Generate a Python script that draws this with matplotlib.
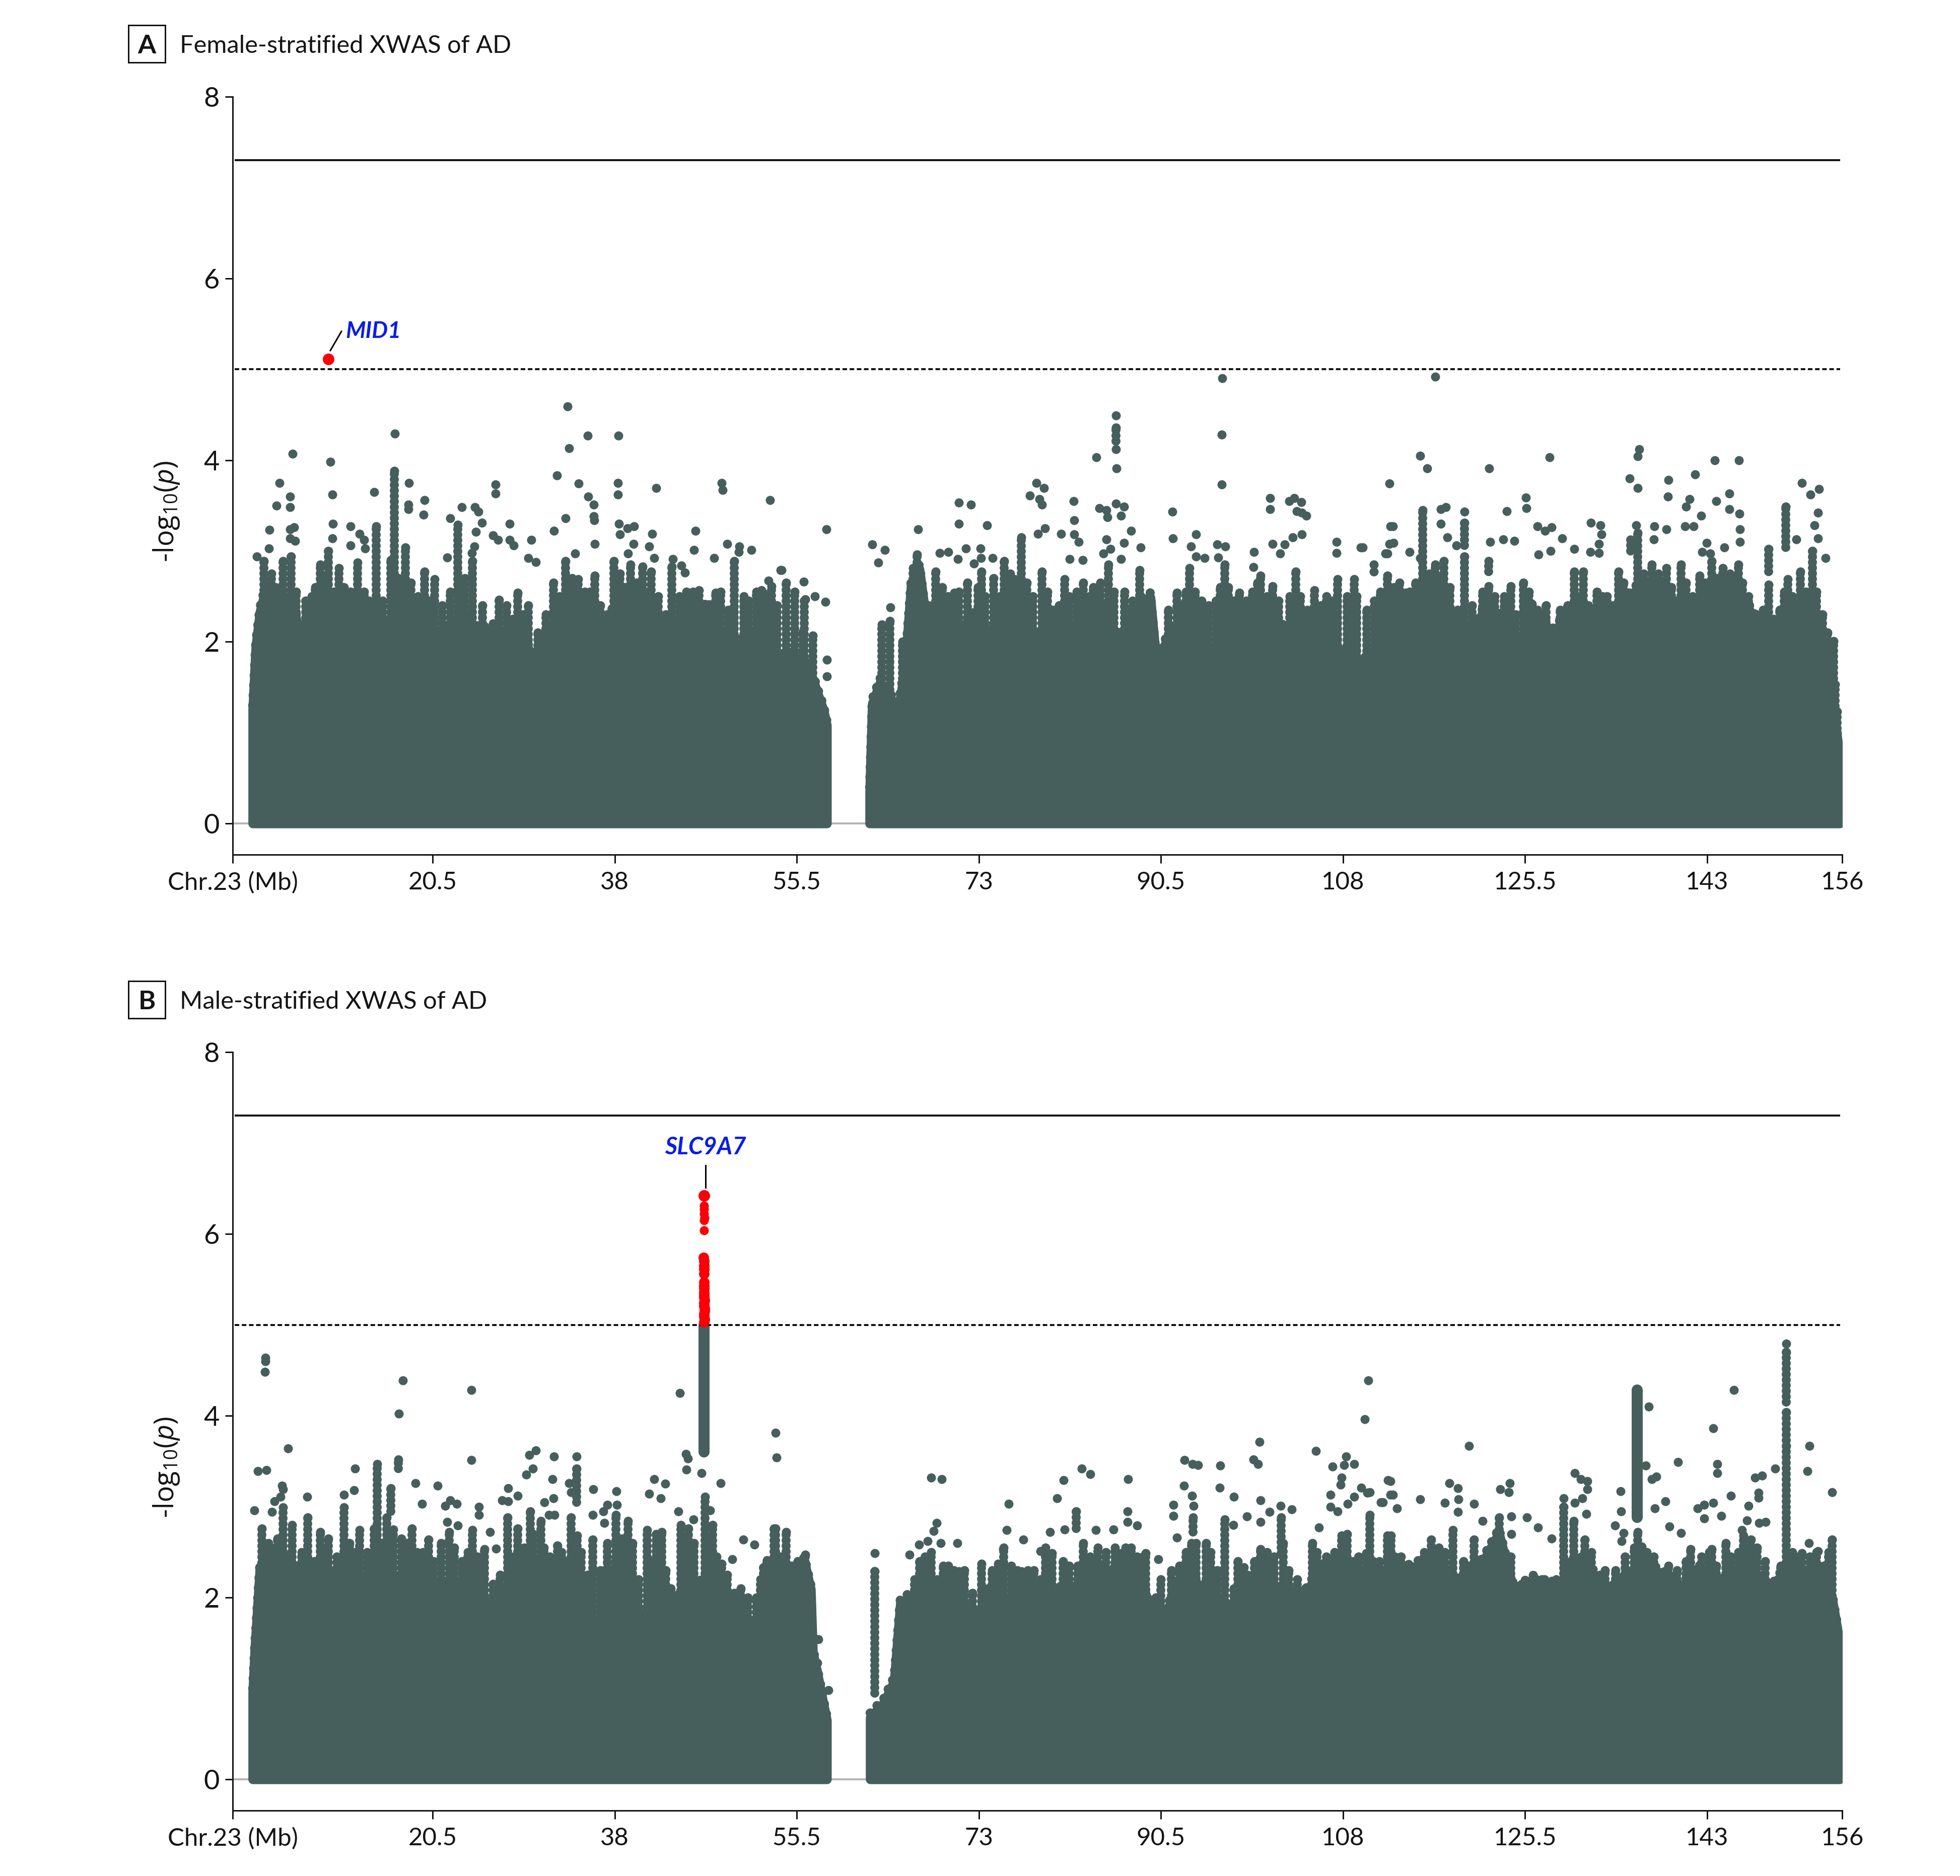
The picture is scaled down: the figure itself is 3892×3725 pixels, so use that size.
import matplotlib
matplotlib.use('Agg')
import matplotlib.pyplot as plt
import numpy as np
from matplotlib.lines import Line2D
from matplotlib.patches import Rectangle

# --- data: x in Mb, y in -log10(p) -----------------------------------------
tick_pos = [1.3, 20.5, 38, 55.5, 73, 90.5, 108, 125.5, 143, 156]
tick_labels = ['Chr.23 (Mb)', '20.5', '38', '55.5', '73', '90.5', '108', '125.5', '143', '156']
y_ticks = [0, 2, 4, 6, 8]
genome_wide = 7.3
suggestive = 5

# panel A, top of the solid mass
mass_x_a = [3.2, 3.5, 3.9, 4.5, 5.7, 6.9, 7.7, 8.9, 10.1, 11.3, 12.5, 13.7, 14.9, 16.1, 17.3, 18.5, 20.1, 20.9, 22.1, 23.3,
            24.9, 26.1, 27.7, 28.9, 30.5, 31.7, 32.9, 34.1, 35.3, 36.5, 38.1, 39.7, 41.3, 42.9, 44.1, 45.7, 46.9, 48.5,
            49.7, 50.9, 52.1, 53.3, 54.5, 55.1, 56.7, 57.5, 58.1, 58.4,
            62.5, 62.75, 63.5, 64.3, 65.3, 65.9, 66.5, 67.3, 68.3, 69.1, 70.3, 71.5, 72.7, 73.9, 75.5, 77.1, 78.7, 80.3,
            81.9, 83.5, 85.1, 86.7, 88.3, 89.5, 90.1, 91.5, 92.7, 93.9, 95.5, 97.1, 98.7, 100.3, 101.9, 103.5, 105.1,
            106.7, 108.3, 109.6, 110.9, 112.3, 113.6, 114.7, 115.7, 116.7, 117.7, 118.7, 119.7, 120.7, 121.8, 123.1,
            124.1, 125.5, 126.9, 128.2, 129.6, 131, 132.6, 134.3, 136.4, 137.7, 139.4, 141.1, 142.8, 144.8, 146.5,
            147.9, 149.2, 150.6, 151.9, 153.3, 154.3, 155.2, 155.75]
mass_y_a = [1.3, 2.0, 2.38, 2.65, 2.53, 2.49, 2.19, 2.07, 2.22, 2.26, 2.15, 2.11, 2.22, 2.18, 2.30, 2.11, 2.07, 2.11, 2.15, 2.38,
            2.15, 2.18, 2.07, 2.07, 1.87, 2.15, 2.34, 1.91, 2.10, 2.03, 2.46, 2.38, 2.38, 2.19, 2.22, 2.19, 2.46, 2.07,
            1.95, 2.15, 1.87, 1.76, 1.91, 1.88, 1.76, 1.49, 1.29, 1.13,
            0.40, 1.37, 1.60, 1.45, 1.33, 1.76, 2.69, 2.85, 2.0, 2.46, 2.07, 2.15, 2.38, 2.11, 2.07, 2.07, 2.15, 2.0,
            2.19, 2.19, 2.22, 2.07, 2.5, 2.54, 1.80, 2.19, 1.88, 2.07, 1.95, 1.95, 1.95, 2.22, 2.22, 2.07, 2.15,
            1.95, 1.91, 1.80, 1.88, 2.23, 2.50, 2.38, 2.5, 2.5, 2.5, 2.19, 2.19, 2.19, 2.46, 2.34,
            1.99, 2.15, 2.30, 2.15, 2.34, 2.19, 2.46, 2.38, 2.65, 2.65, 2.19, 2.26, 2.50, 2.57, 2.50,
            2.26, 2.15, 2.42, 2.38, 2.23, 2.07, 1.29, 0.79]

# panel A, stacks of dots rising out of the mass
stalk_x_a = [4.3, 6.1, 6.9, 9.7, 10.5, 11.5, 13.3, 15.1, 16.5, 16.82, 17.9, 19.7, 20.7, 22.9, 24.3, 26.9, 28.7, 29.7, 32.1,
             33.3, 34.5, 36.1, 37.9, 39.5, 40.7, 41.5, 43.5, 46.1, 47.7, 49.5, 52.1, 52.26, 53.06, 54.46, 56.06, 57.06,
             63.66, 64.46, 65.66, 67.06, 66.66, 68.86, 70.66, 73.26, 75.46, 76.46, 77.06, 79.06, 81.26, 83.06, 84.66,
             85.46, 88.46, 92.06, 93.26, 96.66, 98.06, 100.06, 101.26, 103.46, 105.26, 107.46, 109.06, 112.26, 113.46,
             114, 115.67, 116.86, 117.7, 119.67, 122, 124.14, 125.33, 126.18, 130.25, 131.1, 132.96, 134.48, 136.35,
             137.7, 139.07, 140.48, 142.3, 143.47, 144.5, 146, 148.9, 150.76, 151.96, 153.13, 155.16, 155.33, 155.5]
stalk_top_a = [2.89, 2.89, 2.94, 2.85, 3.0, 2.81, 2.87, 3.27, 2.90, 3.88, 3.04, 2.77, 2.69, 3.29, 2.89, 2.46, 2.54, 2.40, 2.65,
               2.89, 2.69, 2.73, 2.89, 2.85, 2.83, 2.77, 2.83, 2.57, 2.54, 2.89, 2.57, 2.54, 2.61, 2.65, 2.11, 2.07,
               2.19, 2.23, 2.0, 2.96, 2.81, 2.77, 2.54, 2.77, 2.89, 2.69, 3.15, 2.77, 2.69, 2.65, 2.65,
               2.85, 2.79, 2.54, 2.81, 2.85, 2.54, 2.73, 2.61, 2.77, 2.57, 2.69, 2.69, 2.73, 2.65,
               2.54, 3.45, 2.85, 2.89, 2.94, 2.61, 2.61, 2.65, 2.42, 2.77, 2.77, 2.50, 2.77, 3.20,
               2.85, 2.81, 2.85, 2.73, 2.89, 2.81, 2.85, 2.63, 2.69, 2.77, 3.0, 2.01, 1.53, 1.23]

# panel A, lower stacks between them
lace_x_a = [5.0, 5.4, 7.4, 8.3, 8.9, 9.2, 10.1, 11.0, 12.0, 12.6, 13.9, 14.4, 15.7, 17.2, 18.4, 19.1, 20.2, 21.4, 22.2, 23.6,
            25.3, 26.3, 27.6, 28.2, 29.2, 30.6, 31.4, 32.7, 33.9, 35.1, 35.6, 36.6, 37.3, 38.5, 39.0, 40.1, 41.0, 42.2,
            42.9, 44.2, 44.9, 45.5, 47.0, 48.2, 48.9, 50.4, 50.9, 51.6, 52.6, 53.6, 55.3, 56.2,
            68.2, 69.5, 70.0, 71.1, 71.9, 72.9, 73.6, 74.4, 75.0, 76.0, 77.6, 78.2, 79.6, 80.1, 80.7, 81.7, 82.4, 83.6,
            84.0, 85.0, 86.0, 87.0, 87.8, 91.2, 92.5, 92.9, 93.8, 94.4, 95.1, 95.8, 96.2, 97.0, 97.5, 98.7, 99.3, 99.8,
            100.7, 101.8, 102.9, 103.9, 104.6, 105.9, 106.4, 107.0, 108.4, 109.3, 110.3, 111.0, 111.6, 112.9,
            114.4, 115.0, 116.3, 117.3, 118.3, 119.0, 120.4, 121.4, 122.6, 123.5, 124.6, 125.9, 126.7, 127.5, 128.9,
            129.6, 130.7, 131.6, 132.4, 133.4, 133.9, 135.0, 135.8, 136.9, 137.2, 138.3, 138.8, 139.6, 140.1, 141.0,
            141.6, 142.8, 144.0, 145.2, 145.6, 146.4, 147.0, 147.6, 148.4, 149.4, 150.0, 150.4, 151.2, 152.5, 153.5,
            154.1, 154.6, 155.0]
lace_top_a = [2.75, 2.6, 2.55, 2.45, 2.5, 2.6, 2.7, 2.55, 2.6, 2.55, 2.55, 2.45, 2.45, 2.7, 2.65, 2.5, 2.45, 2.4, 2.55, 2.7,
              2.4, 2.2, 2.4, 2.25, 2.3, 2.1, 2.3, 2.5, 2.7, 2.55, 2.55, 2.4, 2.3, 2.75, 2.6, 2.65, 2.55, 2.5,
              2.3, 2.5, 2.55, 2.55, 2.4, 2.55, 2.35, 2.5, 2.45, 2.55, 2.5, 2.4, 2.55, 2.45,
              2.4, 2.6, 2.5, 2.55, 2.65, 2.6, 2.5, 2.7, 2.5, 2.75, 2.65, 2.5, 2.55, 2.35, 2.4, 2.5, 2.55, 2.5,
              2.6, 2.4, 2.55, 2.55, 2.45, 2.35, 2.4, 2.55, 2.55, 2.45, 2.4, 2.45, 2.6, 2.6, 2.45, 2.45, 2.55, 2.65,
              2.5, 2.45, 2.5, 2.5, 2.35, 2.4, 2.5, 2.45, 2.5, 2.5, 2.35, 2.45, 2.55, 2.6,
              2.55, 2.65, 2.75, 2.7, 2.6, 2.35, 2.4, 2.55, 2.5, 2.5, 2.3, 2.55, 2.35, 2.4, 2.35,
              2.4, 2.5, 2.4, 2.55, 2.5, 2.4, 2.65, 2.4, 2.75, 2.65, 2.75, 2.65, 2.6, 2.45, 2.65,
              2.5, 2.65, 2.7, 2.75, 2.7, 2.65, 2.5, 2.3, 2.35, 2.25, 2.35, 2.55, 2.5, 2.55, 2.55,
              2.3, 2.1, 1.95]

# panel A, short stacks that float above the mass
column_x_a = [86.18, 119.67, 150.55, 148.9, 135.67, 122]
column_low_a = [4.21, 3.06, 3.04, 2.77, 3.0, 2.77]
column_high_a = [4.36, 3.31, 3.49, 3.02, 3.12, 2.89]

# panel A, single dots
dot_x_a = [7.06, 10.66, 16.86, 33.46, 33.62, 35.42, 38.34, 32.46, 5.78, 6.82, 6.82, 5.5, 10.86, 14.86, 18.22, 18.18, 18.18,
           19.7, 19.62, 26.54, 26.54, 34.54, 35.46, 35.98, 35.98, 36.06, 38.3, 38.3, 41.98, 48.3, 48.38, 52.94, 23.3,
           24.54, 24.9, 22.18, 33.3, 10.9, 10.86, 4.82, 6.78, 7.2, 6.82, 7.26, 12.62, 12.62, 13.5, 13.9, 14.02, 25.22,
           24.66, 27.9, 27.9, 28.3, 26.3, 26.78, 30, 32.18, 36.1, 38.42, 38.5, 39.22, 39.86, 39.82, 39.3, 41.58, 41.3,
           45.78, 45.62, 48.82, 49.98, 49.94, 51.14, 4.78, 3.58, 24.5, 24.26, 21.9, 34.22, 29.7, 30.42, 41.82, 43.58,
           44.42, 44.74, 47.54, 53.94, 52.78,
           96.42, 96.34, 96.34, 86.18, 86.18, 86.22, 84.3, 78.54, 79.26, 77.9, 78.82, 79.06, 82.14, 82.18, 82.18, 82.58,
           84.58, 85.26, 85.34, 86.18, 86.98, 86.66, 87.66, 86.98, 85.26, 88.54, 71.1, 72.26, 71.1, 73.78, 67.18, 91.62,
           91.66, 100.98, 100.98, 102.86, 103.34, 104.02, 103.54, 104.06, 104.46, 112.46, 112.58, 112.46, 112.06,
           104.06, 103.18, 102.38, 101.22, 101.98, 93.86, 93.38, 93.86, 94.7, 95.9, 96.7, 96.02, 99.46, 99.38, 107.38,
           107.38, 109.7, 110.98, 110.98, 62.78, 63.98, 63.34, 58.34, 58.42, 58.42, 64.5, 78.66, 79.34, 80.9, 71.78,
           73.14, 70.98, 72.54, 73.22, 74.34, 69.26, 70.06, 81.74, 82.98, 84.98, 85.66, 86.66, 56.18, 54.02, 58.26,
           57.26, 56.34,
           116.86, 115.4, 116.1, 122.04, 127.87, 136.48, 136.35, 135.57, 136.35, 143.74, 146.04, 139.3, 139.23, 141.84,
           141.3, 140.96, 142.45, 143.87, 145.16, 145.16, 146.11, 152.1, 152.96, 153.74, 153.64, 153.3, 153.64, 154.38,
           125.57, 125.64, 123.74, 119.67, 117.43, 117.87, 126.69, 127.43, 128.04, 112.82, 112.85, 109.9, 112.28, 114.4,
           115.4, 117.43, 118.04, 118.9, 123.43, 124.48, 122.14, 129.06, 130.25, 127.97, 126.79, 131.84, 132.75, 132.86,
           132.62, 132.62, 131.77, 136.2, 137.94, 139.1, 137.87, 140.86, 141.7, 142.96, 142.52, 143.3, 144.65, 146.18,
           146.18, 151.6]
dot_y_a = [4.07, 3.98, 4.29, 4.59, 4.13, 4.27, 4.27, 3.83, 3.75, 3.60, 3.48, 3.50, 3.62, 3.65, 3.75, 3.51, 3.46,
           3.56, 3.40, 3.73, 3.63, 3.74, 3.60, 3.51, 3.38, 3.34, 3.75, 3.62, 3.69, 3.75, 3.67, 3.56, 3.48,
           3.48, 3.43, 3.36, 3.36, 3.30, 3.14, 3.23, 3.24, 3.26, 3.14, 3.11, 3.27, 3.06, 3.19, 3.12, 3.03, 3.31,
           3.21, 3.30, 3.12, 3.06, 3.17, 3.12, 3.12, 3.22, 3.08, 3.30, 3.18, 3.25, 3.27, 3.08, 2.97, 3.19, 3.05,
           3.22, 3.01, 3.08, 3.05, 2.99, 3.01, 3.03, 2.94, 3.05, 2.98, 2.93, 2.97, 2.92, 2.88, 2.92, 2.91,
           2.84, 2.76, 2.92, 2.79, 2.67,
           4.90, 4.28, 3.73, 4.49, 4.12, 3.91, 4.03, 3.75, 3.69, 3.61, 3.57, 3.51, 3.55, 3.34, 3.18, 3.10,
           3.47, 3.45, 3.37, 3.52, 3.49, 3.39, 3.22, 3.09, 3.13, 3.04, 3.53, 3.51, 3.30, 3.28, 3.24, 3.43,
           3.14, 3.58, 3.46, 3.55, 3.58, 3.54, 3.44, 3.42, 3.39, 3.74, 3.27, 3.08, 2.97,
           3.18, 3.15, 3.07, 3.08, 2.97, 3.18, 3.05, 2.94, 2.92, 3.07, 3.05, 2.93, 2.99, 2.82, 3.10,
           2.98, 3.04, 2.85, 2.77, 3.07, 3.01, 2.87, 3.24, 1.80, 1.62, 2.38, 3.19, 3.25, 3.19, 3.03,
           3.03, 2.91, 2.86, 2.92, 2.92, 2.98, 2.99, 2.91, 2.90, 2.97, 3.02, 2.91, 2.66, 2.79, 2.44,
           2.50, 2.47,
           4.92, 4.05, 3.91, 3.91, 4.03, 4.12, 4.04, 3.80, 3.69, 4.00, 4.00, 3.78, 3.60, 3.84,
           3.57, 3.49, 3.39, 3.55, 3.63, 3.46, 3.41, 3.75, 3.62, 3.68, 3.42, 3.28, 3.14, 2.92,
           3.59, 3.47, 3.44, 3.43, 3.46, 3.48, 3.27, 3.22, 3.26, 3.27, 3.09, 3.04, 2.97, 2.99,
           2.92, 3.30, 3.15, 3.06, 3.13, 3.11, 3.10, 3.14, 3.02, 3.0, 2.96, 3.31, 3.28, 3.18,
           3.08, 2.98, 2.99, 3.28, 3.27, 3.24, 3.13, 3.27, 3.27, 3.09, 2.99, 2.97, 3.04, 3.24,
           3.10, 3.13]

hit_x_a = [10.46]
hit_y_a = [5.11]

# panel B, top of the solid mass
mass_x_b = [3.2, 3.4, 3.9, 5.3, 6.5, 6.9, 8.5, 10.1, 12.1, 14.1, 15.3, 17.3, 19.3, 21.3, 22.9, 24.9, 26.5, 27.7, 29.3, 30.9,
            32.5, 34.1, 35.3, 36.5, 38.1, 39.3, 40.5, 42.1, 43.3, 44.5, 46.1, 47.7, 49.7, 51.7, 53.06, 54.66, 56.24,
            56.86, 57.06, 57.46, 58.06, 58.4,
            62.55, 62.86, 63.86, 64.86, 65.46, 67.46, 69.06, 70.26, 71.86, 73.46, 75.06, 77.06, 79.46, 81.86, 83.86,
            85.86, 88.26, 89.46, 90.86, 93.06, 95.06, 96.66, 98.66, 100.26, 102.66, 104.26, 105.86, 108.26, 109.6, 111.6,
            113.6, 115.3, 117, 119.06, 121.1, 123, 124.5, 126.2, 127.5, 129, 130.2, 131.6, 133.6, 135.3, 136.7, 138.4,
            140.4, 142.1, 144.1, 146, 147.5, 149.2, 150.6, 152.3, 153.6, 155, 155.75]
mass_y_b = [1.0, 1.48, 2.39, 2.57, 2.45, 2.2, 2.2, 2.25, 2.29, 2.18, 2.33, 2.21, 2.21, 2.18, 2.18, 2.10, 1.79, 2.14, 2.33, 2.45,
            2.29, 2.37, 1.87, 1.75, 2.41, 1.87, 1.83, 1.87, 1.79, 2.14, 2.21, 1.94, 1.75, 1.75, 2.10, 2.10, 2.45,
            2.14, 1.44, 1.24, 0.89, 0.70,
            0.73, 0.77, 0.89, 1.13, 2.0, 2.10, 2.18, 1.90, 1.94, 1.75, 1.98, 2.02, 2.10, 2.14, 2.33,
            2.33, 2.37, 1.94, 1.87, 2.33, 2.06, 1.94, 2.06, 2.18, 2.10, 2.06, 2.37, 2.41, 2.29, 2.33,
            2.33, 2.41, 2.45, 2.21, 2.37, 2.76, 2.10, 2.25, 2.18, 2.18, 2.45, 2.37, 2.10, 2.29, 2.37, 2.33,
            2.14, 2.37, 2.18, 2.33, 2.25, 2.14, 2.37, 2.29, 2.33, 2.06, 1.56]

stalk_x_b = [4.1, 6.1, 7, 8.5, 9.7, 11.98, 13.5, 14.9, 15.18, 16.1, 18.5, 20.1, 22.1, 24.3, 25.5, 27.7, 28.7, 29.9, 30.9, 32.5,
             33.82, 34.38, 35.9, 38.1, 39.3, 41.1, 42.5, 44.38, 45.1, 46.7, 47.42, 48.3, 50.1, 52.3, 53.3, 54.5,
             52.66, 53.46, 54.46, 56.34, 67.86, 70.06, 71.06, 73.26, 74.86, 77.06, 80.06, 83.06, 84.46, 86.66, 87.66,
             89.06, 93.46, 94.86, 96.66, 98.46, 100.06, 102.26, 105.06, 107.86, 110.26, 112.26,
             110.6, 112.6, 116.48, 118.55, 120.58, 123, 124.14, 129.2, 130.2, 131.26, 136.35, 136.7, 141.4, 143.47,
             144.8, 146.5, 147.2, 152.1, 155]
stalk_top_b = [2.76, 2.99, 2.8, 2.88, 2.72, 2.99, 2.74, 2.76, 3.47, 2.88, 2.76, 2.64, 2.72, 2.74, 2.53, 2.88, 2.76, 2.95, 2.84, 2.57,
               2.88, 2.68, 2.64, 2.91, 2.84, 2.74, 2.72, 2.80, 2.76, 3.11, 2.80, 2.37, 2.1, 2.33, 2.76, 2.72,
               2.41, 2.76, 2.33, 2.47, 2.45, 2.35, 2.29, 2.37, 2.37, 2.29, 2.49, 2.60, 2.55, 2.49, 2.55,
               2.49, 2.60, 2.60, 2.86, 2.33, 2.53, 2.60, 2.60, 2.68, 2.49, 2.68,
               2.91, 2.68, 2.64, 2.74, 2.64, 2.88, 2.45, 3.0, 2.84, 2.64, 2.72, 2.56, 2.53, 2.53,
               2.60, 2.68, 2.64, 2.49, 2.64]

lace_x_b = [4.7, 5.6, 7.4, 7.9, 9.1, 10.1, 10.5, 11.3, 12.5, 13.0, 14.2, 14.5, 15.6, 16.7, 17.5, 18.0, 19.0, 19.6, 20.6, 21.3,
            22.6, 23.3, 23.9, 24.8, 25.1, 26.3, 27.0, 28.3, 29.3, 30.2, 31.2, 31.8, 32.9, 33.4, 34.8, 35.4, 36.6, 37.3,
            38.7, 39.7, 40.3, 41.6, 42.0, 42.9, 43.4, 44.8, 45.6, 47.0, 47.8, 48.8, 49.5, 50.8, 51.6, 52.0, 52.9, 53.9,
            55.0, 55.6,
            66.8, 67.3, 68.4, 69.0, 69.6, 70.6, 71.6, 72.4, 73.9, 74.3, 75.4, 76.1, 76.7, 77.7, 78.3, 78.9, 79.4, 81.1,
            81.7, 82.5, 83.7, 85.2, 86.1, 87.1, 88.2, 88.8, 90.0, 90.5, 91.5, 92.3, 92.9, 93.9, 95.3, 95.9, 97.5, 97.9,
            98.8, 99.5, 100.7, 101.4, 102.8, 103.6, 104.4, 105.5, 106.4, 107.2, 108.4, 109.0, 109.5, 110.9, 111.5, 113.0,
            113.6, 114.3, 115.8, 117.2, 117.8, 119.6, 120.0, 121.9, 122.4, 124.7, 125.2, 126.6, 127.4, 127.9, 128.5,
            129.9, 130.9, 131.9, 132.7, 133.2, 134.2, 135.1, 136.0, 137.2, 137.9, 139.3, 140.1, 141.0, 142.5, 143.2,
            143.9, 145.3, 146.0, 147.0, 147.8, 148.6, 149.8, 150.1, 151.2, 151.8, 152.9, 153.5, 154.2, 154.7]
lace_top_b = [2.6, 2.65, 2.35, 2.5, 2.4, 2.55, 2.65, 2.45, 2.6, 2.5, 2.5, 2.4, 2.6, 2.75, 2.65, 2.6, 2.5, 2.5, 2.4, 2.6,
              2.55, 2.4, 2.5, 2.45, 2.2, 2.15, 2.25, 2.45, 2.55, 2.7, 2.55, 2.45, 2.5, 2.4, 2.5, 2.25, 2.3, 2.6,
              2.65, 2.6, 2.2, 2.4, 2.7, 2.3, 2.1, 2.65, 2.6, 2.65, 2.45, 2.25, 2.05, 2.0, 2.0, 2.2, 2.35, 2.45,
              2.35, 2.4,
              2.2, 2.4, 2.5, 2.2, 2.35, 2.3, 2.3, 2.05, 2.1, 2.3, 2.55, 2.35, 2.3, 2.3, 2.3, 2.2, 2.55, 2.4,
              2.35, 2.35, 2.45, 2.5, 2.55, 2.55, 2.45, 2.45, 2.0, 2.2, 2.3, 2.35, 2.5, 2.6, 2.5, 2.3, 2.1, 2.4,
              2.25, 2.4, 2.5, 2.45, 2.3, 2.2, 2.1, 2.5, 2.45, 2.5, 2.7, 2.4, 2.45, 2.4, 2.4, 2.45,
              2.45, 2.35, 2.5, 2.55, 2.5, 2.4, 2.35, 2.5, 2.55, 2.1, 2.15, 2.2, 2.2, 2.15, 2.2,
              2.4, 2.45, 2.5, 2.25, 2.3, 2.3, 2.45, 2.55, 2.5, 2.45, 2.35, 2.3, 2.4, 2.45, 2.5,
              2.35, 2.45, 2.5, 2.55, 2.55, 2.4, 2.2, 2.35, 2.5, 2.45, 2.45, 2.5, 2.35, 2.5]

# panel B, floating stacks; the wide ones are the tall peaks
column_x_b = [34.34, 17.22, 16.5, 63.0, 82.34, 102.06, 93.58, 150.6, 150.6, 150.6]
column_low_b = [3.05, 3.42, 2.95, 0.95, 2.76, 2.49, 2.72, 4.15, 3.73, 1.9]
column_high_b = [3.42, 3.52, 3.2, 2.29, 2.95, 2.88, 2.88, 4.70, 4.04, 3.67]
peak_x_b = [46.6, 136.3]
peak_low_b = [3.6, 2.88]
peak_high_b = [5.0, 4.28]

dot_x_b = [4.42, 4.42, 4.38, 17.66, 17.26, 24.22, 24.22, 44.26, 6.62, 3.7, 4.5, 53.46, 53.58, 29.78, 30.42, 30.14, 29.5,
           32.14, 32.02, 34.34, 33.62, 33.82, 13.02, 12.94, 18.86, 20.98, 19.5, 6.02, 6.1, 8.46, 11.98, 5.3, 5.9, 3.34,
           5.06, 27.78, 28.7, 27.18, 27.78, 21.7, 22.18, 22.82, 24.94, 24.94, 21.9, 22.9, 31.22, 32.1, 31.7, 32.22, 35.94,
           38.18, 38.22, 35.9, 37.02, 36.9, 37.3, 48.18, 46.34, 44.86, 45.06, 44.9, 41.78, 42.86, 41.3, 42.42, 44.1,
           45.58, 47.18, 50.38, 51.42, 26.02, 26.62, 49.3, 57.58, 58.54, 57.46, 63.0,
           110.42, 110.1, 99.98, 105.38, 99.38, 99.82, 96.22, 92.78, 93.54, 94.06, 92.74, 96.18, 97.5, 93.5, 93.66, 91.7,
           91.7, 82.9, 83.7, 81.14, 80.5, 87.34, 68.42, 69.42, 75.86, 87.3, 87.3, 88.22, 85.94, 108.3, 106.98, 108.1,
           109.1, 107.86, 107.78, 110.34, 106.82, 106.82, 109.06, 108.46, 107.46, 112.34, 112.58, 111.66, 100.06, 100.1,
           98.78, 100.94, 102.02, 103.06, 97.46, 68.94, 68.66, 67.26, 68.06, 69.34, 70.94, 66.34, 75.66, 75.34, 77.26,
           78.9, 79.86, 81.26, 84.26, 92.02, 90.26, 105.7,
           145.6, 143.6, 137.4, 120.1, 140.2, 144, 144, 152.82, 152.65, 155, 149.57, 147.6, 148.3, 147.94, 147.94, 147,
           145.3, 137.1, 137.7, 138.1, 134.7, 134.75, 139, 138, 130.3, 130.86, 131.5, 131.5, 131, 129.2, 130.3, 131.4,
           124.04, 123.94, 123.13, 118.25, 119.06, 119.1, 119.06, 117.77, 115.43, 112.55, 112.82, 110.58, 109.77, 111.84,
           113.2, 124.2, 124.2, 125.67, 126.75, 120.58, 121.43, 142.1, 142.7, 143.57, 144.35, 142.7, 146.35, 146.86,
           147.98, 148.65, 134.15, 135, 134.8, 139.4, 140.5, 152.8, 153.64, 128.04, 150.6]
dot_y_b = [4.64, 4.60, 4.48, 4.39, 4.02, 4.28, 3.51, 4.25, 3.64, 3.39, 3.40, 3.81, 3.54, 3.57, 3.62, 3.42, 3.35,
           3.55, 3.30, 3.55, 3.26, 3.16, 3.42, 3.18, 3.26, 3.23, 3.03, 3.23, 3.19, 3.11, 3.13, 3.06, 3.11, 2.96,
           2.94, 3.20, 3.12, 3.07, 3.06, 3.01, 3.07, 3.03, 3.0, 2.91, 2.83, 2.79, 3.05, 3.09, 2.91, 2.91, 3.19,
           3.17, 3.02, 2.91, 2.82, 2.95, 3.02, 3.26, 3.37, 3.58, 3.53, 3.41, 3.30, 3.25, 3.14, 3.09, 2.95,
           2.86, 2.96, 2.64, 2.58, 2.72, 2.54, 2.42, 1.54, 0.98, 1.28, 2.49,
           4.39, 3.96, 3.71, 3.61, 3.52, 3.47, 3.45, 3.51, 3.47, 3.46, 3.23, 3.21, 3.11, 3.12, 3.01, 3.02,
           2.90, 3.42, 3.36, 3.29, 3.09, 3.30, 3.32, 3.30, 3.03, 2.95, 2.83, 2.79, 2.75, 3.55, 3.44, 3.46,
           3.47, 3.32, 3.24, 3.15, 3.13, 3.0, 3.11, 3.03, 2.95, 3.29, 3.13, 3.05, 3.07, 2.83,
           2.89, 2.94, 3.01, 2.97, 2.80, 2.82, 2.73, 2.58, 2.62, 2.60, 2.60, 2.47, 2.74, 2.53, 2.64,
           2.51, 2.72, 2.75, 2.74, 2.66, 2.42, 2.77,
           4.28, 3.86, 4.10, 3.67, 3.49, 3.47, 3.37, 3.67, 3.39, 3.16, 3.42, 3.32, 3.34, 3.15, 3.10, 3.01,
           3.12, 3.45, 3.30, 3.33, 3.17, 2.95, 3.06, 2.98, 3.37, 3.30, 3.28, 3.19, 3.09, 3.09, 3.04, 2.92,
           3.26, 3.16, 3.19, 3.26, 3.20, 3.08, 2.94, 3.04, 3.08, 3.28, 3.13, 3.16, 3.21, 3.05,
           2.98, 2.89, 2.70, 2.88, 2.77, 3.03, 2.84, 2.98, 3.02, 3.04, 2.90, 2.87, 2.74, 2.85,
           2.82, 2.83, 2.79, 2.71, 2.62, 2.78, 2.71, 2.60, 2.51, 2.65, 4.79]

hit_x_b = [46.6, 46.58, 46.6, 46.6, 46.62, 46.6, 46.6, 46.56, 46.58, 46.6, 46.58, 46.58, 46.6, 46.6, 46.58, 46.6, 46.6,
           46.58, 46.62, 46.6, 46.58, 46.62, 46.62, 46.6, 46.6, 46.62, 46.6]
hit_y_b = [6.42, 6.31, 6.27, 6.22, 6.18, 6.15, 6.04, 5.74, 5.70, 5.65, 5.61, 5.56, 5.47, 5.43, 5.40, 5.36, 5.33,
           5.30, 5.27, 5.24, 5.21, 5.18, 5.15, 5.12, 5.09, 5.06, 5.03]

# --- figure ---------------------------------------------------------------
W, H = 3892, 3725
DPI = 300
PX = 72 / DPI  # one image pixel in points
DOT = '#465f5d'
RED = '#fb0006'
BLUE = '#0a1ee6'
BLACK = '#141414'
DOT_W = 18 * PX
BEADS = (0, (0.01, 0.6))

plt.rcParams['font.family'] = ['Lato', 'DejaVu Sans']
plt.rcParams['mathtext.fontset'] = 'custom'
plt.rcParams['mathtext.rm'] = 'Open Sans'
plt.rcParams['mathtext.it'] = 'Open Sans:italic'

fig = plt.figure(figsize=(W / DPI, H / DPI), dpi=DPI, facecolor='white')


def fx(x):
    return x / W


def fy(y):
    return 1 - y / H


def draw_stacks(ax, x, low, high):
    ax.vlines(x, low, high, color=DOT, lw=DOT_W, linestyles=BEADS, capstyle='round', zorder=2)
    ax.scatter(x, high, s=DOT_W ** 2, color=DOT, linewidths=0, zorder=2)


def draw_panel(top, bottom, letter, title, label_y, box_y, mass_x, mass_y, stalk_x, stalk_top, lace_x, lace_top,
               col_x, col_low, col_high, dot_x, dot_y):
    ax = fig.add_axes([fx(462.4), fy(bottom), (3658.3 - 462.4) / W, (bottom - top) / H])
    ax.set_xlim(1.3, 156)
    ax.set_ylim(-0.343, 8)

    # grey baseline, visible left of the mass and across the gap
    ax.plot([1.3, 156], [0, 0], color='#b5b5b5', lw=4 * PX, zorder=1, solid_capstyle='butt')

    # solid mass: both sides of the centromere gap separately, knobbly top edge
    mass_x = np.array(mass_x)
    mass_y = np.array(mass_y)
    for mask in [mass_x < 60, mass_x > 60]:
        ax.fill_between(mass_x[mask], 0, mass_y[mask] - 0.05, facecolor=DOT, edgecolor=DOT, lw=DOT_W,
                        joinstyle='round', zorder=2)
        ax.plot(mass_x[mask], mass_y[mask], color=DOT, lw=DOT_W, dashes=(0.01, 1.1), dash_capstyle='round', zorder=2)

    draw_stacks(ax, stalk_x, 0.5, stalk_top)
    draw_stacks(ax, lace_x, 0.5, lace_top)
    draw_stacks(ax, col_x, col_low, col_high)
    ax.scatter(dot_x, dot_y, s=DOT_W ** 2, color=DOT, linewidths=0, zorder=2)

    # thresholds
    ax.plot([1.47, 155.8], [genome_wide, genome_wide], color=BLACK, lw=4 * PX, solid_capstyle='butt', zorder=3)
    ax.plot([1.47, 155.8], [suggestive, suggestive], color=BLACK, lw=4 * PX, dashes=(2.25, 1.3),
            dash_capstyle='butt', zorder=3)

    for side in ['top', 'right']:
        ax.spines[side].set_visible(False)
    for side in ['left', 'bottom']:
        ax.spines[side].set_linewidth(3 * PX)
        ax.spines[side].set_color(BLACK)
    ax.set_xticks(tick_pos, labels=tick_labels)
    ax.set_yticks(y_ticks)
    ax.tick_params(axis='x', length=17 * PX, width=3 * PX, pad=16 * PX, labelsize=11.8, color=BLACK, labelcolor=BLACK)
    ax.tick_params(axis='y', length=15 * PX, width=3 * PX, pad=12 * PX, labelsize=13, color=BLACK, labelcolor=BLACK)

    fig.text(fx(330), fy(label_y), '-log$_{10}$($\\mathit{p}$)', rotation=90, ha='center', va='center', fontsize=13,
             family=['Open Sans', 'DejaVu Sans'], color=BLACK)

    # panel letter and title
    fig.add_artist(Rectangle((fx(255), fy(box_y + 37)), 73 / W, 74 / H, transform=fig.transFigure, facecolor='white',
                             edgecolor=BLACK, lw=3 * PX))
    fig.text(fx(291.5), fy(box_y), letter, ha='center', va='center_baseline', fontsize=12.5, fontweight='bold', color=BLACK)
    fig.text(fx(357), fy(box_y), title, ha='left', va='center_baseline', fontsize=11.7, color=BLACK)
    return ax


ax_a = draw_panel(192, 1697, 'A', 'Female-stratified XWAS of AD', 1015, 87, mass_x_a, mass_y_a, stalk_x_a, stalk_top_a,
                  lace_x_a, lace_top_a, column_x_a, column_low_a, column_high_a, dot_x_a, dot_y_a)
ax_b = draw_panel(2089, 3595, 'B', 'Male-stratified XWAS of AD', 2913, 1985, mass_x_b, mass_y_b, stalk_x_b, stalk_top_b,
                  lace_x_b, lace_top_b, column_x_b, column_low_b, column_high_b, dot_x_b, dot_y_b)

# the two wide peaks of panel B are solid
ax_b.vlines(peak_x_b, peak_low_b, peak_high_b, color=DOT, lw=22 * PX, capstyle='round', zorder=2)

# hits past the suggestive line, in red
ax_a.scatter(hit_x_a, hit_y_a, s=(23 * PX) ** 2, color=RED, linewidths=0, zorder=4)
ax_b.scatter(hit_x_b[1:7], hit_y_b[1:7], s=(18 * PX) ** 2, color=RED, linewidths=0, zorder=4)
ax_b.scatter(hit_x_b[7:], hit_y_b[7:], s=(21 * PX) ** 2, color=RED, linewidths=0, zorder=4)
ax_b.scatter(hit_x_b[:1], hit_y_b[:1], s=(23 * PX) ** 2, color=RED, linewidths=0, zorder=4)

# gene labels and their leader lines
fig.add_artist(Line2D([fx(656), fx(678)], [fy(696), fy(658)], color='black', lw=3 * PX))
fig.text(fx(686), fy(658), 'MID1', ha='left', va='center', fontsize=10.8, fontweight='bold', style='italic', color=BLUE)
fig.add_artist(Line2D([fx(1401), fx(1401)], [fy(2314), fy(2358)], color='black', lw=3 * PX))
fig.text(fx(1401), fy(2278), 'SLC9A7', ha='center', va='center', fontsize=11.3, fontweight='bold', style='italic', color=BLUE)

fig.savefig('out.png', dpi=DPI)
